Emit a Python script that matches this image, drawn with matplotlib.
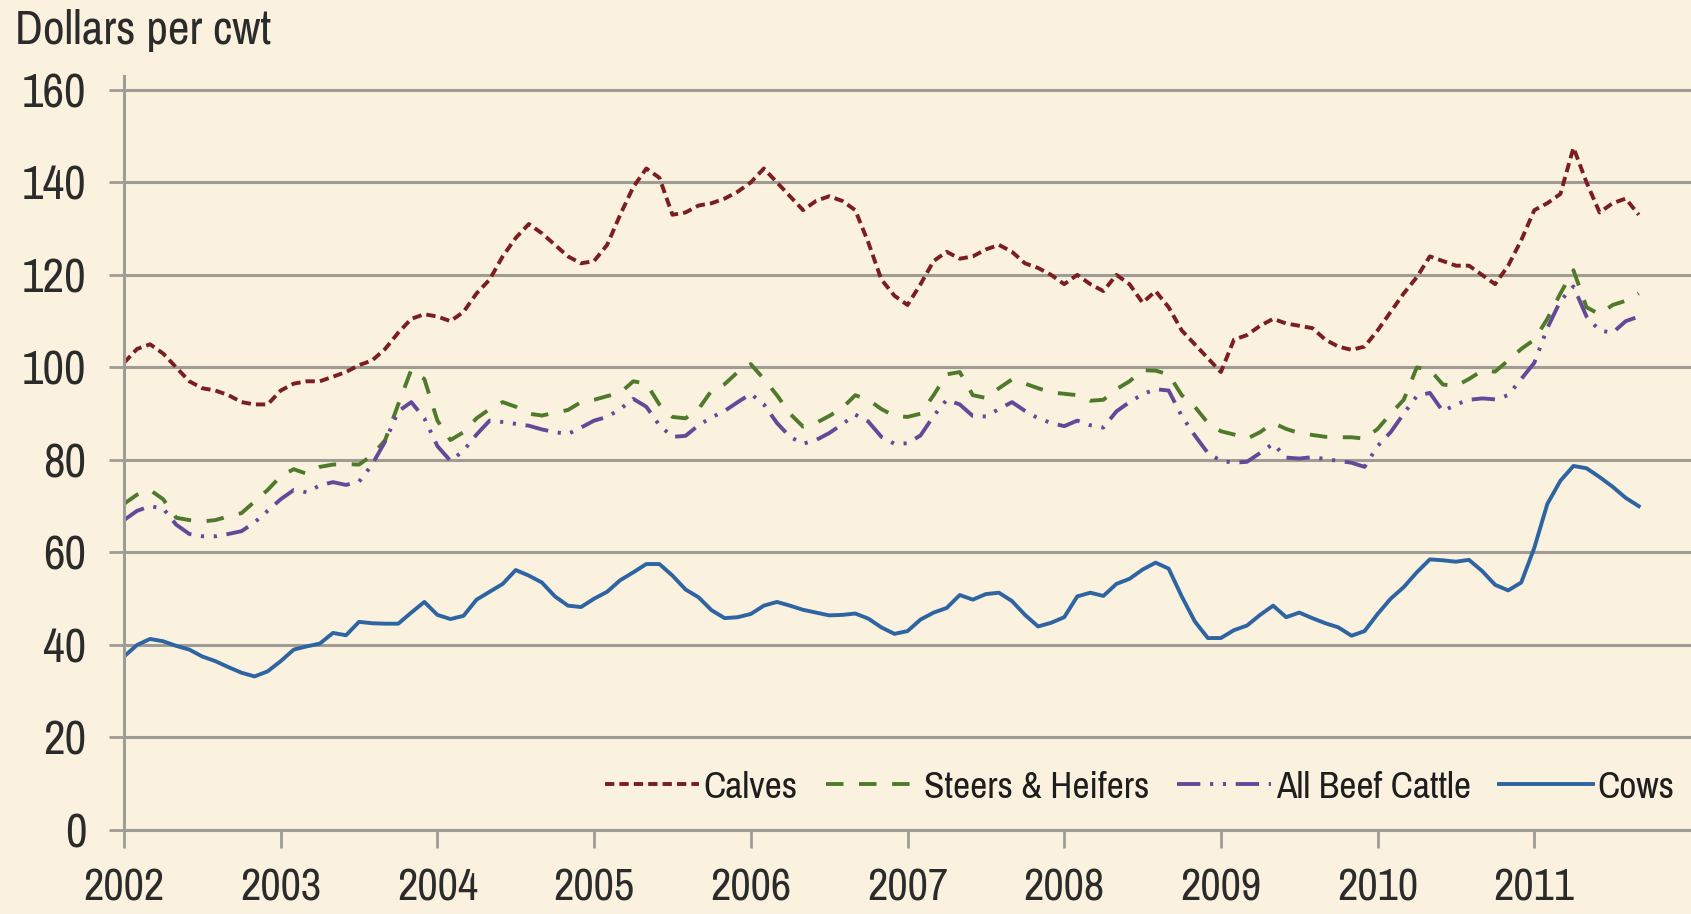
import matplotlib
matplotlib.use("Agg")
import matplotlib.pyplot as plt
import numpy as np

plt.rcParams['font.family'] = ['Archivo Narrow', 'Liberation Sans', 'DejaVu Sans']

# monthly prices, Jan 2002 .. Sep 2011, dollars per cwt
start_year = 2002
calves = [101, 104, 105, 103, 100, 97, 95.5, 95, 94, 92.5, 92, 92,
          95, 96.5, 97, 97, 98, 99, 100.5, 101.5, 104, 107.5, 110.5, 111.5,
          111, 110, 112, 116, 119, 124, 128, 131, 129, 126.5, 124, 122.5,
          123, 126.5, 133, 139, 143, 141, 133, 133.5, 135, 135.5, 136.5, 138,
          140, 143, 140, 137, 134, 136, 137, 136, 134, 127, 119, 115.5,
          113.5, 118, 123, 125, 123.5, 124, 125.5, 126.5, 125, 122.5, 121.5, 120,
          118, 120, 118, 116.5, 120, 118, 114, 116.5, 113, 108, 105, 102,
          99, 106, 107, 109, 110.5, 109.5, 109, 108.5, 106, 104.5, 103.8, 104.5,
          108, 112, 116, 119.5, 124, 123, 122, 122, 120, 118, 122, 127.5,
          134, 135.5, 137.5, 147.5, 140, 133.5, 135.5, 136.5, 133]
steers = [70.5, 72.5, 73.5, 71.5, 67.5, 67, 66.7, 67, 67.8, 68.5, 71, 73.5,
          76.5, 78, 77, 78.5, 79, 79.1, 79, 81, 84.3, 92, 99.5, 97.5,
          88.5, 84.3, 86, 89, 91, 92.5, 91.5, 90, 89.6, 90.2, 90.8, 92.5,
          93, 93.8, 94.5, 97, 96.5, 92, 89.3, 89, 91, 95, 96.4, 99,
          100.7, 97.5, 94, 90, 87.2, 88, 89.5, 91.2, 94, 93, 91, 89.5,
          89.3, 90, 94, 98.5, 99, 94, 93.4, 95.5, 97.4, 96.5, 95.5, 94.6,
          94.3, 94, 92.8, 93, 95.3, 97, 99.4, 99.3, 98.5, 94, 91.5, 88,
          86.2, 85.5, 84.6, 86, 88, 86.7, 85.8, 85.4, 85, 84.9, 84.9, 84.6,
          86.7, 90, 93, 100, 99.5, 96.3, 96, 97.5, 99.3, 99.1, 101.5, 104,
          106, 110.5, 116, 121, 113, 111.5, 113.5, 114.4, 116]
all_beef = [67, 69, 70, 69.5, 66, 64, 63.5, 63.5, 64, 64.6, 66.5, 69,
            71.5, 73.5, 73, 74.5, 75.2, 74.6, 75.3, 79, 84, 90.5, 92.5, 89,
            83, 79.8, 82, 85.5, 88.5, 88.2, 87.8, 87.4, 86.6, 86, 85.6, 87,
            88.5, 89.3, 91, 93.2, 91.5, 87.5, 85, 85.2, 87.5, 89.2, 90.6, 92.5,
            94.3, 92, 88, 85, 83.5, 84.3, 85.8, 87.7, 89.8, 88.3, 85, 83.5,
            83.6, 85.3, 89.5, 93, 92, 89.5, 89.4, 91, 92.5, 90.6, 89, 88,
            87.3, 88.5, 87.5, 87, 90.5, 92.5, 94.2, 95.3, 95, 89.5, 85.3, 81.5,
            79.8, 79.4, 79.6, 81.5, 83.5, 80.5, 80.3, 80.6, 80.2, 79.8, 79.4, 78.5,
            83, 86, 90, 93.8, 94.5, 90.5, 92, 93, 93.3, 93.1, 94, 97.5,
            101, 108.5, 114.4, 117.5, 111, 108, 107.5, 110, 111]
cows = [37.5, 40, 41.3, 40.8, 39.8, 39, 37.5, 36.5, 35.2, 34, 33.2, 34.3,
        36.5, 39, 39.7, 40.3, 42.6, 42.1, 45, 44.7, 44.6, 44.6, 47, 49.3,
        46.5, 45.6, 46.3, 49.8, 51.5, 53.2, 56.2, 55, 53.5, 50.5, 48.5, 48.2,
        50, 51.5, 54, 55.7, 57.5, 57.5, 55, 52, 50.3, 47.5, 45.8, 46,
        46.7, 48.5, 49.3, 48.5, 47.6, 47, 46.4, 46.5, 46.8, 45.7, 43.8, 42.4,
        43, 45.5, 47, 48, 50.8, 49.8, 51, 51.3, 49.5, 46.5, 44, 44.8,
        46, 50.5, 51.3, 50.6, 53.2, 54.3, 56.3, 57.8, 56.5, 50.5, 45.1, 41.5,
        41.5, 43.2, 44.2, 46.5, 48.5, 46, 47, 45.8, 44.7, 43.8, 42, 43,
        46.7, 50, 52.5, 55.7, 58.5, 58.3, 58, 58.4, 56, 53, 51.8, 53.5,
        61, 70.5, 75.5, 78.7, 78.2, 76.3, 74.2, 71.8, 70]
year_ticks = list(range(2002, 2012))
series_names = ['Calves', 'Steers & Heifers', 'All Beef Cattle', 'Cows']

bg = '#faf1de'
grid_col = '#9f9c95'
txt_col = '#2b2b2b'

fig = plt.figure(figsize=(16.91, 9.14), dpi=100, facecolor=bg)
ax = fig.add_axes([124/1691, 84/914, 1567/1691, 754/914], facecolor=bg)

x = start_year + np.arange(len(calves)) / 12.0

ax.plot(x, calves, color='#7a1e22', lw=2.8, dashes=(2.4, 1.3), label=series_names[0])
ax.plot(x, steers, color='#4f7a2b', lw=2.8, dashes=(4.5, 4), label=series_names[1])
ax.plot(x, all_beef, color='#634a98', lw=2.8, dashes=(6, 2.5, 0.8, 2.5, 0.8, 2.5),
        label=series_names[2])
ax.plot(x, cows, color='#2e64a2', lw=2.8, label=series_names[3])

ax.set_xlim(2002, 2012)
ax.set_ylim(0, 163)
ax.set_yticks(range(0, 161, 20))
ax.set_xticks(year_ticks)
ax.set_xticklabels([str(y) for y in year_ticks])

ax.yaxis.grid(True, color=grid_col, lw=2.2)
ax.set_axisbelow(True)
for s in ['top', 'right']:
    ax.spines[s].set_visible(False)
for s in ['left', 'bottom']:
    ax.spines[s].set_color(grid_col)
    ax.spines[s].set_linewidth(2.2)

ax.tick_params(axis='y', length=11, width=2, color=grid_col, labelsize=34,
               pad=16, labelcolor=txt_col)
ax.tick_params(axis='x', length=13, width=2, color=grid_col, labelsize=32,
               pad=15, labelcolor=txt_col)

fig.text(15/1691, 1 - 44/914, 'Dollars per cwt', fontsize=34, color=txt_col,
         ha='left', va='baseline')

leg = ax.legend(ncol=4, loc='center right', bbox_to_anchor=(1674/1691, 1 - 787/914),
                bbox_transform=fig.transFigure, frameon=False, fontsize=27,
                handlelength=2.5, handletextpad=0.12, columnspacing=0.75,
                borderpad=0, borderaxespad=0)
for t in leg.get_texts():
    t.set_color('#1e1e1e')

fig.savefig('out.png', dpi=100, facecolor=bg)
